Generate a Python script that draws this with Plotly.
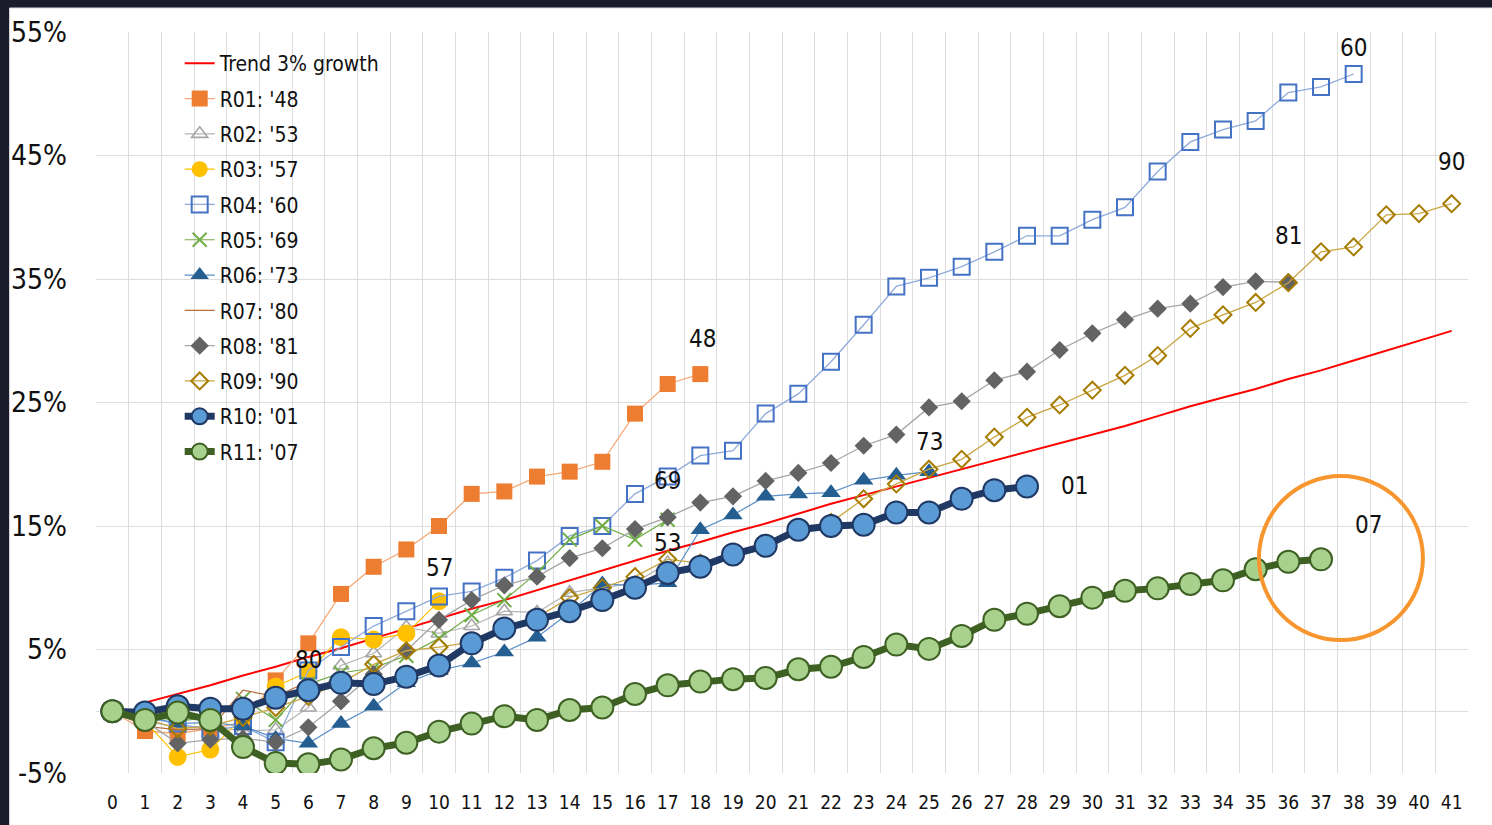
import plotly.graph_objects as go

quarters = list(range(42))

trend = [None, 0.7, 1.4, 2.1, 2.9, 3.6, 4.4, 5.1, 5.9, 6.7, 7.5, 8.3, 9.0, 9.8, 10.6, 11.4,
         12.2, 13.0, 13.7, 14.5, 15.2, 16.0, 16.8, 17.5, 18.2, 18.9, 19.6, 20.3, 21.0, 21.7,
         22.4, 23.1, 23.9, 24.7, 25.4, 26.1, 26.9, 27.6, 28.4, 29.2, 30.0, 30.8]
r01 = [0, -1.6, -1.8, -1.4, -0.9, 2.5, 5.5, 9.5, 11.7, 13.1, 15.0, 17.6, 17.8, 19.0, 19.4,
       20.2, 24.1, 26.5, 27.3]
r02 = [0, -0.8, -1.3, -1.2, -1.6, -1.5, 0.3, 3.7, 4.7, 6.8, 6.3, 6.9, 8.1, 8.0, 9.6, 10.0,
       10.4, 12.0]
r03 = [0, -0.8, -3.7, -3.1, -0.5, 2.0, 3.2, 6.0, 5.8, 6.3, 8.9]
r04 = [0, -0.5, -1.0, -1.5, -1.2, -2.5, 3.3, 5.2, 6.9, 8.1, 9.3, 9.7, 10.8, 12.2, 14.2, 15.0,
       17.6, 19.0, 20.7, 21.1, 24.1, 25.7, 28.3, 31.3, 34.4, 35.1, 36.0, 37.2, 38.5, 38.5,
       39.8, 40.8, 43.7, 46.1, 47.1, 47.8, 50.1, 50.55, 51.6]
r05 = [0, -0.3, -0.8, -0.5, 1.0, -0.7, 2.2, 3.1, 3.5, 4.5, 5.9, 7.8, 9.0, 11.2, 13.9, 15.0,
       13.9, 15.5]
r06 = [0, -0.4, -1.0, -0.9, -1.2, -2.2, -2.6, -1.0, 0.4, 2.3, 3.3, 3.9, 4.8, 6.0, 8.0, 10.3,
       10.2, 10.4, 14.7, 15.9, 17.4, 17.6, 17.7, 18.7, 19.1, 19.4]
r07 = [0, -1.2, -1.5, -1.4, 1.7, 1.2, 2.4]
r08 = [0, -0.8, -2.6, -2.3, -2.2, -2.5, -1.3, 0.8, 3.0, 4.9, 7.4, 9.0, 10.2, 10.9, 12.4,
       13.2, 14.75, 15.7, 16.9, 17.4, 18.65, 19.3, 20.1, 21.5, 22.4, 24.6, 25.1, 26.8, 27.5,
       29.25, 30.6, 31.7, 32.6, 33.0, 34.35, 34.8, 34.75]
r09 = [0, -0.6, -1.4, -1.2, -0.5, 0.3, 1.2, 2.3, 3.8, 4.9, 5.2, 5.6, 6.6, 7.6, 9.2, 10.0,
       10.9, 12.3, 12.0, 12.8, 13.6, 14.6, 15.3, 17.2, 18.4, 19.6, 20.4, 22.2, 23.8, 24.8,
       26.0, 27.2, 28.8, 31.0, 32.1, 33.1, 34.7, 37.2, 37.6, 40.2, 40.3, 41.1]
r10 = [0, -0.1, 0.4, 0.2, 0.2, 1.1, 1.7, 2.3, 2.2, 2.8, 3.7, 5.5, 6.7, 7.4, 8.1, 9.0, 10.0,
       11.2, 11.7, 12.7, 13.4, 14.7, 15.0, 15.1, 16.1, 16.1, 17.2, 17.9, 18.2]
r11 = [0, -0.7, -0.1, -0.7, -2.9, -4.2, -4.3, -3.9, -3.0, -2.55, -1.65, -1.0, -0.4, -0.7,
       0.1, 0.3, 1.4, 2.1, 2.4, 2.6, 2.7, 3.4, 3.6, 4.4, 5.4, 5.05, 6.1, 7.4, 7.9, 8.5, 9.2,
       9.75, 9.95, 10.3, 10.6, 11.5, 12.1, 12.3]

y_ticks = [-5, 5, 15, 25, 35, 45, 55]
y_tick_text = ["-5%", "5%", "15%", "25%", "35%", "45%", "55%"]

names = ["Trend 3% growth", "R01: '48", "R02: '53", "R03: '57", "R04: '60", "R05: '69",
         "R06: '73", "R07: '80", "R08: '81", "R09: '90", "R10: '01", "R11: '07"]
end_labels = [None, "48", "53", "57", "60", "69", "73", "80", "81", "90", "01", "07"]
series = [trend, r01, r02, r03, r04, r05, r06, r07, r08, r09, r10, r11]

styles = [
    dict(mode="lines", line=dict(color="#FF0000", width=2)),
    dict(mode="lines+markers", line=dict(color="#F4A878", width=1.3),
         marker=dict(symbol="square", size=16, color="#ED7D31")),
    dict(mode="lines+markers", line=dict(color="#B4B4B4", width=1.2),
         marker=dict(symbol="triangle-up-open", size=14, color="#A5A5A5", line=dict(width=1.6))),
    dict(mode="lines+markers", line=dict(color="#FFC000", width=1.2),
         marker=dict(symbol="circle", size=18, color="#FFC000")),
    dict(mode="lines+markers", line=dict(color="#8FAADC", width=1.3),
         marker=dict(symbol="square-open", size=16, color="#4472C4", line=dict(width=2))),
    dict(mode="lines+markers", line=dict(color="#70AD47", width=1.2),
         marker=dict(symbol="x-thin-open", size=14, color="#70AD47", line=dict(width=2, color="#70AD47"))),
    dict(mode="lines+markers", line=dict(color="#5B8FC8", width=1.2),
         marker=dict(symbol="triangle-up", size=17, color="#255E91")),
    dict(mode="lines", line=dict(color="#B5703E", width=1.2)),
    dict(mode="lines+markers", line=dict(color="#A5A5A5", width=1.3),
         marker=dict(symbol="diamond", size=14, color="#636363")),
    dict(mode="lines+markers", line=dict(color="#C9A63F", width=1.3),
         marker=dict(symbol="diamond-open", size=13, color="#A67C00", line=dict(width=2))),
    dict(mode="lines+markers", line=dict(color="#1F3864", width=7),
         marker=dict(symbol="circle", size=22, color="#5B9BD5", line=dict(color="#1F3864", width=2))),
    dict(mode="lines+markers", line=dict(color="#3E6123", width=7),
         marker=dict(symbol="circle", size=22, color="#A9D18E", line=dict(color="#3E6123", width=2))),
]

# label pixel offsets relative to each series' last point
label_shift = [None, (2, 35), (0, 20), (0, 33), (0, 26), (0, 39), (0, 30), (0, 22),
               (0, 46), (0, 42), (47, 0), (47, 34)]

FONT = "Liberation Sans Narrow, DejaVu Sans Condensed, Arial Narrow, Lato, sans-serif"

fig = go.Figure()
for i, (nm, vals, st) in enumerate(zip(names, series, styles)):
    fig.add_trace(go.Scatter(x=quarters[:len(vals)], y=vals, name=nm, legendgroup=nm,
                             connectgaps=False, hoverinfo="skip", **st))

annotations = []
for i, vals in enumerate(series):
    if end_labels[i] is None:
        continue
    n = len(vals) - 1
    dx, dy = label_shift[i]
    annotations.append(dict(x=quarters[n], y=vals[n], text=end_labels[i], showarrow=False,
                            xshift=dx, yshift=dy,
                            font=dict(size=24, color="#111111", family=FONT)))

# orange highlight circle around the end of R11
n11 = len(r11) - 1
cx, cy = quarters[n11] + 0.61, r11[n11] + 0.1
rx, ry = 2.51, 6.64

shapes = [
    dict(type="rect", xref="paper", yref="paper", x0=-0.063, x1=1.02, y0=-0.08, y1=1.0324,
         fillcolor="white", line=dict(color="#DADADA", width=1), layer="below"),
    dict(type="circle", xref="x", yref="y", x0=cx - rx, x1=cx + rx, y0=cy - ry, y1=cy + ry,
         line=dict(color="#F7962F", width=4)),
]

fig.update_layout(
    width=1492, height=825, autosize=False,
    margin=dict(l=96, r=24, t=32, b=52, autoexpand=False),
    paper_bgcolor="#1B1C2B", plot_bgcolor="white",
    font=dict(family=FONT, color="#111111"),
    showlegend=True,
    legend=dict(x=0.061, y=0.985, xanchor="left", yanchor="top", bgcolor="rgba(0,0,0,0)",
                font=dict(size=21, family=FONT, color="#111111"), tracegroupgap=5,
                itemsizing="trace"),
    annotations=annotations,
    shapes=shapes,
)
fig.update_xaxes(range=[-0.5, 41.5], tickmode="array", tickvals=quarters,
                 ticktext=[str(q) for q in quarters], showgrid=False, zeroline=False,
                 ticks="", ticklabelstandoff=16, tickfont=dict(size=19, family=FONT),
                 minor=dict(tickmode="array", tickvals=[q - 0.5 for q in quarters] + [41.5],
                            showgrid=True, gridcolor="#DDDDDD", gridwidth=1, ticks=""),
                 showline=False, automargin=False)
fig.update_yaxes(range=[-5, 55], tickmode="array", tickvals=y_ticks, ticktext=y_tick_text,
                 showgrid=True, gridcolor="#DDDDDD", gridwidth=1, zeroline=True,
                 zerolinecolor="#DDDDDD", zerolinewidth=1, ticks="", ticklabelstandoff=28,
                 tickfont=dict(size=28, family=FONT), showline=False, automargin=False)

fig.write_html("out.html")
